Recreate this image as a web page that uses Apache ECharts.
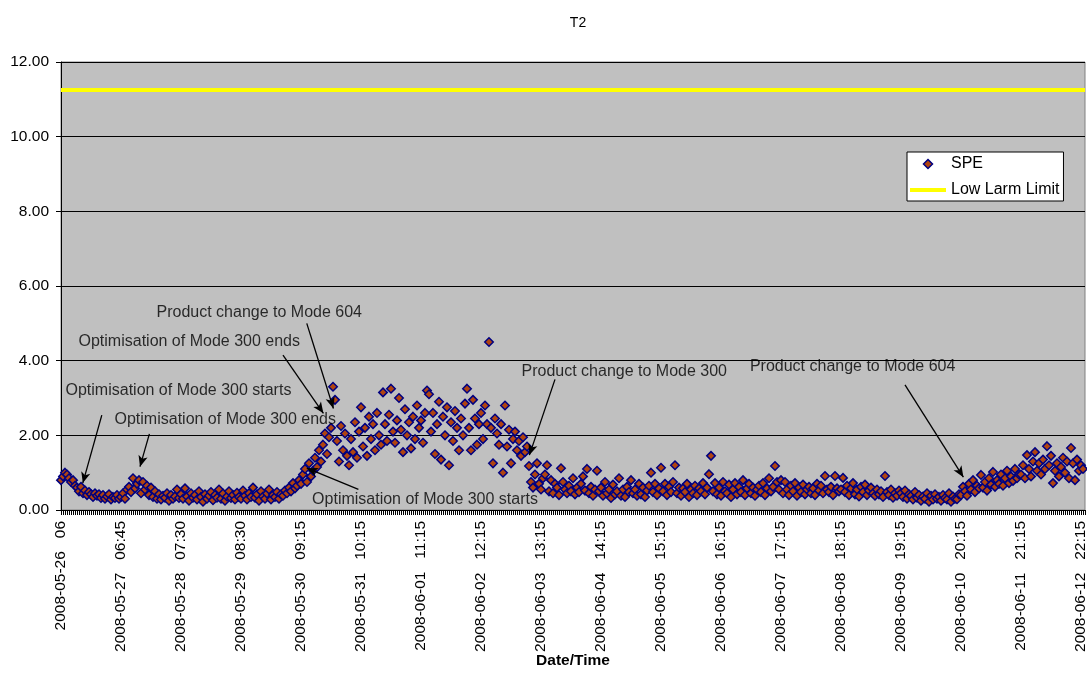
<!DOCTYPE html>
<html><head><meta charset="utf-8">
<script src="https://cdn.jsdelivr.net/npm/echarts@6/dist/echarts.min.js"></script>
<style>html,body{margin:0;padding:0;background:#fff}#c{width:1087px;height:673px}</style>
</head><body><div id="c"></div>
<script>
// Tick labels (one every 30 samples)
const tickLabels = [
  "2008-05-26   06", "2008-05-27   06:45", "2008-05-28   07:30", "2008-05-29   08:30",
  "2008-05-30   09:15", "2008-05-31   10:15", "2008-06-01   11:15", "2008-06-02   12:15",
  "2008-06-03   13:15", "2008-06-04   14:15", "2008-06-05   15:15", "2008-06-06   16:15",
  "2008-06-07   17:15", "2008-06-08   18:15", "2008-06-09   19:15", "2008-06-10   20:15",
  "2008-06-11   21:15", "2008-06-12   22:15"
];
const samplesPerTick = 30;

// SPE values (30 samples per tick interval)
const speValues = [
  0.80,0.90,1.00,0.95,0.85,0.75,0.80,0.65,0.60,0.50,0.62,0.45,0.52,0.40,0.48,0.42,0.35,0.45,0.38,0.42,0.32,0.40,0.30,0.36,0.42,0.28,0.35,0.32,0.40,0.30,
  0.35,0.45,0.30,0.55,0.62,0.48,0.85,0.58,0.70,0.80,0.45,0.75,0.55,0.65,0.40,0.60,0.35,0.50,0.30,0.42,0.28,0.38,0.33,0.45,0.25,0.40,0.30,0.36,0.55,0.32,
  0.42,0.30,0.58,0.36,0.25,0.45,0.33,0.40,0.28,0.50,0.35,0.22,0.42,0.30,0.38,0.48,0.26,0.40,0.33,0.55,0.30,0.44,0.25,0.36,0.50,0.32,0.40,0.28,0.46,0.35,
  0.30,0.52,0.38,0.28,0.45,0.35,0.60,0.33,0.42,0.25,0.50,0.36,0.30,0.44,0.55,0.28,0.40,0.35,0.48,0.30,0.42,0.38,0.52,0.45,0.60,0.50,0.72,0.58,0.65,0.80,
  0.70,0.95,1.10,0.75,1.25,0.90,1.05,1.40,1.15,1.60,1.30,1.75,2.05,1.50,1.95,2.20,3.30,2.95,1.85,1.30,2.25,1.60,2.05,1.45,1.20,1.90,1.55,2.35,1.40,2.10,
  2.75,1.70,2.20,1.45,2.50,1.90,2.30,1.60,2.60,2.00,1.75,3.15,2.30,1.85,2.55,3.25,2.10,1.80,2.40,3.00,2.15,1.55,2.70,2.00,2.35,1.65,2.50,1.90,2.80,2.20,
  2.40,1.80,2.60,3.20,3.10,2.10,2.60,1.50,2.30,2.90,1.35,2.50,2.00,2.75,1.20,2.35,1.85,2.65,2.20,1.60,2.45,2.00,2.85,3.25,2.20,1.60,2.95,2.45,1.75,2.30,
  2.60,1.90,2.80,2.30,4.50,2.20,1.25,2.45,2.05,1.75,2.30,1.00,2.80,1.70,2.15,1.25,1.90,2.10,1.60,1.85,1.45,1.95,1.55,1.70,1.18,0.75,0.60,0.95,1.25,0.70,
  0.55,0.85,0.95,1.20,0.50,0.80,0.45,0.70,0.60,0.40,1.12,0.75,0.55,0.45,0.65,0.50,0.85,0.42,0.60,0.48,0.70,0.90,0.52,1.10,0.45,0.62,0.38,0.55,1.05,0.50,
  0.60,0.38,0.75,0.45,0.55,0.32,0.68,0.42,0.50,0.85,0.38,0.55,0.35,0.62,0.48,0.80,0.45,0.55,0.38,0.70,0.42,0.60,0.35,0.52,0.65,1.00,0.48,0.70,0.40,0.58,
  1.13,0.50,0.70,0.40,0.62,0.48,0.75,1.20,0.45,0.60,0.38,0.58,0.48,0.70,0.35,0.55,0.45,0.65,0.40,0.58,0.50,0.72,0.42,0.60,0.96,1.45,0.50,0.72,0.42,0.60,
  0.38,0.75,0.50,0.45,0.68,0.35,0.55,0.72,0.42,0.62,0.48,0.80,0.40,0.58,0.70,0.45,0.60,0.38,0.55,0.65,0.48,0.72,0.40,0.58,0.85,0.50,0.62,1.18,0.75,0.55,
  0.80,0.45,0.75,0.55,0.40,0.65,0.50,0.72,0.38,0.60,0.48,0.68,0.42,0.55,0.62,0.45,0.58,0.40,0.70,0.52,0.65,0.45,0.91,0.55,0.48,0.62,0.40,0.91,0.58,0.50,
  0.55,0.86,0.48,0.65,0.40,0.58,0.72,0.42,0.55,0.36,0.62,0.48,0.68,0.40,0.52,0.60,0.45,0.38,0.55,0.42,0.50,0.35,0.91,0.48,0.40,0.55,0.33,0.45,0.38,0.52,
  0.45,0.35,0.52,0.30,0.42,0.38,0.28,0.48,0.33,0.40,0.25,0.36,0.30,0.45,0.22,0.38,0.28,0.42,0.30,0.35,0.25,0.40,0.32,0.28,0.45,0.22,0.36,0.30,0.29,0.42,
  0.40,0.62,0.50,0.38,0.70,0.55,0.80,0.48,0.65,0.58,0.94,0.60,0.75,0.52,0.85,0.68,1.02,0.62,0.80,0.70,0.95,0.65,0.85,1.05,0.72,0.90,0.78,1.10,0.85,0.95,
  0.95,1.20,0.85,1.47,1.10,0.90,1.30,1.55,1.05,1.25,0.95,1.35,1.10,1.71,1.20,1.45,0.72,1.05,1.25,0.90,1.15,1.40,1.00,1.30,0.85,1.66,1.25,0.80,1.35,1.05,1.20,1.10
];
const lowLarmLimit = 11.25;

// Annotations (data coordinates: sample index, SPE value)
const annotationLabels = [
  { text: "Product change to Mode 604",       at: [47.5, 5.29] },
  { text: "Optimisation of Mode 300 ends",    at: [8.5, 4.51] },
  { text: "Optimisation of Mode 300 starts",  at: [2.0, 3.21] },
  { text: "Optimisation of Mode 300 ends",    at: [26.5, 2.41] },
  { text: "Optimisation of Mode 300 starts",  at: [125.3, 0.27] },
  { text: "Product change to Mode 300",       at: [230.0, 3.72] },
  { text: "Product change to Mode 604",       at: [344.2, 3.84] }
];
const annotationArrows = [
  [[122.9, 5.00], [136.2, 2.72]],
  [[111.0, 4.15], [131.2, 2.59]],
  [[20.4, 2.54], [10.9, 0.72]],
  [[44.2, 2.04], [39.5, 1.16]],
  [[148.7, 0.55], [122.9, 1.12]],
  [[247.0, 3.50], [234.2, 1.47]],
  [[422.0, 3.35], [451.2, 0.88]]
];

const FONT = "'Liberation Sans', Arial, sans-serif";
const xMax = speValues.length;
const chart = echarts.init(document.getElementById('c'), null, { renderer: 'canvas' });
chart.setOption({
  animation: false,
  backgroundColor: '#ffffff',
  textStyle: { fontFamily: FONT, color: '#000' },
  title: {
    text: 'T2', left: 573, top: 11, textAlign: 'center',
    textStyle: { fontFamily: FONT, fontSize: 14, fontWeight: 'normal', color: '#000' }
  },
  grid: {
    left: 61, right: 2, top: 62, bottom: 163, containLabel: false, outerBoundsMode: 'none',
    show: true, backgroundColor: '#C0C0C0', borderColor: '#808080', borderWidth: 1
  },
  legend: {
    data: [
      { name: 'SPE', icon: 'path://M5,0L10,5L5,10L0,5Z',
        itemStyle: { color: '#B04410', borderColor: '#000080', borderWidth: 1.5 } },
      { name: 'Low Larm Limit', icon: 'path://M0,0L90,0L90,10L0,10Z',
        itemStyle: { color: '#FFFF00', borderWidth: 0 } }
    ],
    symbolKeepAspect: true,
    orient: 'vertical', left: 907, top: 152,
    padding: [4, 4, 3, 3], itemWidth: 36, itemHeight: 9, itemGap: 10,
    backgroundColor: '#ffffff', borderColor: '#000000', borderWidth: 1, borderRadius: 0,
    textStyle: { fontFamily: FONT, fontSize: 16, color: '#000' },
    selectedMode: false
  },
  xAxis: {
    type: 'value', min: 0, max: xMax, interval: samplesPerTick,
    name: 'Date/Time', nameLocation: 'middle', nameGap: 143, nameMoveOverlap: false,
    nameTextStyle: { fontFamily: FONT, fontSize: 15.5, fontWeight: 'bold', color: '#000' },
    axisLine: { show: true, onZero: false, lineStyle: { color: '#000', width: 1 } },
    axisTick: { show: true, length: 5, lineStyle: { color: '#000', width: 1 } },
    minorTick: { show: true, splitNumber: 30, length: 5, lineStyle: { color: '#000', width: 1 } },
    splitLine: { show: false },
    axisLabel: {
      rotate: 90, margin: 11, fontFamily: FONT, fontSize: 15.5, color: '#000',
      formatter: v => (v % samplesPerTick === 0 && tickLabels[v / samplesPerTick] !== undefined) ? tickLabels[v / samplesPerTick] : ''
    }
  },
  yAxis: {
    type: 'value', min: 0, max: 12, interval: 2,
    axisLine: { show: true, lineStyle: { color: '#000', width: 1 } },
    axisTick: { show: true, length: 5, lineStyle: { color: '#000' } },
    splitLine: { show: true, lineStyle: { color: '#000', width: 1 } },
    axisLabel: { margin: 12, fontFamily: FONT, fontSize: 15.5, color: '#000', formatter: v => v.toFixed(2) }
  },
  series: [
    {
      name: 'SPE', type: 'scatter', symbol: 'diamond', symbolSize: 8.5,
      itemStyle: { color: '#B04410', borderColor: '#000080', borderWidth: 1.5, opacity: 1 },
      data: speValues.map((v, i) => [i, v]),
      emphasis: { disabled: true }, z: 3
    },
    {
      name: 'Low Larm Limit', type: 'line', symbol: 'none',
      lineStyle: { color: '#FFFF00', width: 4 }, itemStyle: { color: '#FFFF00' },
      data: [[0, lowLarmLimit], [xMax, lowLarmLimit]], z: 2, silent: true
    },
    {
      name: 'annotations', type: 'scatter', symbolSize: 1, silent: true, z: 5,
      itemStyle: { color: 'rgba(0,0,0,0)' },
      label: { show: true, position: 'right', distance: 0, fontFamily: FONT, fontSize: 16, color: '#000' },
      data: annotationLabels.map(a => ({ value: a.at, label: { formatter: a.text } })),
      markLine: {
        silent: true, symbol: ['none', 'arrow'], symbolSize: [7, 11], precision: 4,
        label: { show: false },
        lineStyle: { color: '#000', width: 1.3, type: 'solid' },
        emphasis: { disabled: true },
        data: annotationArrows.map(([a, b]) => [{ coord: a }, { coord: b }])
      }
    }
  ]
});
</script>
</body></html>
